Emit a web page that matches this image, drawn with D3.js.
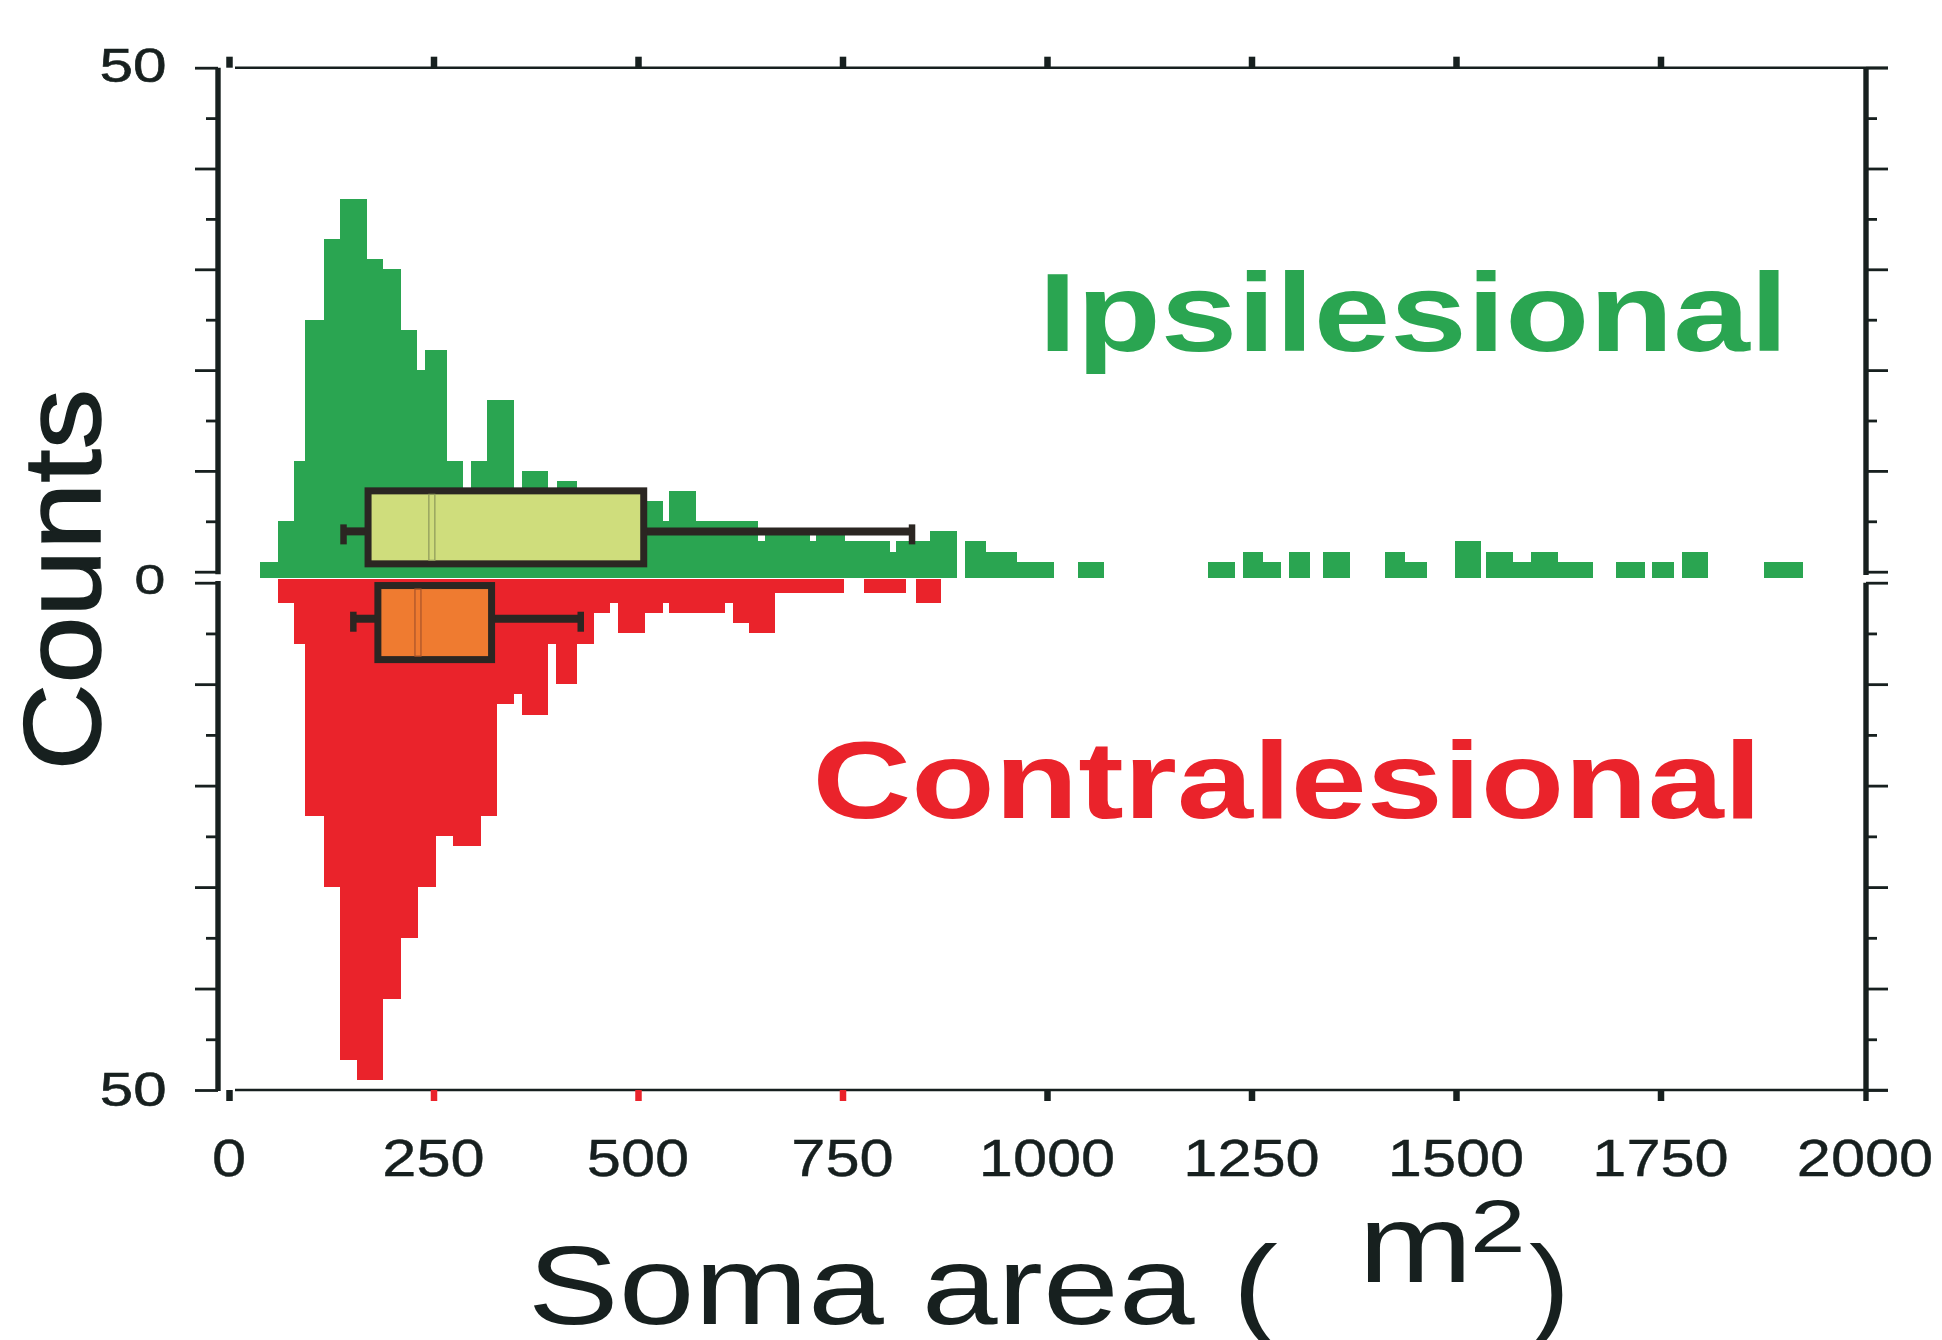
<!DOCTYPE html>
<html><head><meta charset="utf-8">
<script src="https://cdn.jsdelivr.net/npm/d3@7"></script>
<style>html,body{margin:0;padding:0;background:#fff;} svg{display:block}</style>
</head><body>
<svg id="chart" width="1942" height="1340"></svg>
<script>
// ---------------- DATA ----------------
// Ipsilesional histogram (soma area bins, µm²) and counts
const ipsiBinStart = [38,60,80,93.5,116,136,168.5,188,210,230,240,266,286,296,316,348,358,390,401,426,447,468,490,510.6,530,538,570.5,647,655,710,717.6,753,808,816,857,900,926,963,1038,1197,1240,1264,1296,1338,1413,1438,1499,1537,1570,1592,1625,1696,1739,1776,1877];
const ipsiBinEnd   = [60,80,93.5,116,136,168.5,188,210,230,240,266,286,296,316,348,358,390,401,426,447,468,490,510.6,530,538,570.5,647,655,710,717.6,753,808,816,857,889.6,926,963,1008,1070,1230,1264,1286,1321,1370,1438,1465,1530,1570,1592,1625,1668,1731,1766,1808,1924];
const ipsiCounts   = [1,5,11,25,33,37,31,30,24,20,22,11,6,11,17,6,10,7,9,7,6,7,6,7,5,8,5,3,4,3,4,3,2,3,4,3,2,1,1,1,2,1,2,2,2,1,3,2,1,2,1,1,1,2,1];

// Contralesional histogram
const contraBinStart = [60.5,80,93.5,116,136,156,188,210,231,252.6,274,308,328,348.7,358,390,400,425,446,466,475,508,531,538,606,616,636,667,776,840];
const contraBinEnd   = [80,93.5,116,136,156,188,210,231,252.6,274,308,328,348.7,358,390,400,425,446,466,475,508,531,538,606,616,636,667,752,828,870];
const contraCounts   = [2,6,23,30,47,49,41,35,30,25,26,23,12,11,13,6,10,6,3,2,5,3,2,3,2,4,5,1,1,2];

// Box plot statistics: [lower whisker, Q1, median, Q3, upper whisker]
const ipsiBox   = [140,170,248,507,835];
const contraBox = [152,182,231,321,430];

// Axis ticks
const xTickValues = [0,250,500,750,1000,1250,1500,1750,2000];
const xTickLabels = ["0","250","500","750","1000","1250","1500","1750","2000"];
const redXTicks   = [250,500,750];
const countMajorTicks = [0,10,20,30,40,50];
const countMinorTicks = [5,15,25,35,45];

// ---------------- STYLE / LAYOUT ----------------
const FONT = "'Liberation Sans', Arial, Helvetica, sans-serif";
const INK = "#17201f";
const GREEN = "#2aa551", RED = "#ea232b";
const GREEN_BOX = "#cfdd7c", ORANGE_BOX = "#ef7b30", BOX_STROKE = "#2b2622";

const svg = d3.select('#chart');
const x = d3.scaleLinear().domain([0,2000]).range([229,1865]);
const yTop = d3.scaleLinear().domain([0,50]).range([571.7,67.7]);
const yBot = d3.scaleLinear().domain([0,50]).range([582.7,1090]);
const greenBase = yTop(0) + 6;   // bars overhang slightly below zero
const redBase = yBot(0) - 4;

const ctx = document.createElement('canvas').getContext('2d');
function ink(str, size, weight){
  ctx.font = `${weight} ${size}px "Liberation Sans", Arial, sans-serif`;
  const m = ctx.measureText(str);
  return {l: -m.actualBoundingBoxLeft, r: m.actualBoundingBoxRight};
}
function fitText(parent, str, left, right, baseline, size, weight, fill, strokeW){
  const e = ink(str, size, weight);
  const sx = (right-left)/(e.r-e.l);
  const t = parent.append('text')
    .attr('transform', `translate(${left - e.l*sx},${baseline}) scale(${sx},1)`)
    .attr('font-family', FONT).attr('font-size', size).attr('font-weight', weight)
    .attr('fill', fill).text(str);
  if (strokeW) t.attr('stroke', fill).attr('stroke-width', strokeW);
  return t;
}

// ---------------- HISTOGRAMS ----------------
const ipsi = ipsiCounts.map((c,i)=>({x0:ipsiBinStart[i], x1:ipsiBinEnd[i], c}));
const contra = contraCounts.map((c,i)=>({x0:contraBinStart[i], x1:contraBinEnd[i], c}));

svg.append('g').selectAll('rect').data(ipsi).join('rect')
  .attr('x', d=>x(d.x0)).attr('width', d=>x(d.x1)-x(d.x0))
  .attr('y', d=>yTop(d.c)).attr('height', d=>greenBase - yTop(d.c))
  .attr('fill', GREEN).attr('shape-rendering','crispEdges');

svg.append('g').selectAll('rect').data(contra).join('rect')
  .attr('x', d=>x(d.x0)).attr('width', d=>x(d.x1)-x(d.x0))
  .attr('y', redBase).attr('height', d=>yBot(d.c) - redBase)
  .attr('fill', RED).attr('shape-rendering','crispEdges');

// ---------------- BOX PLOTS ----------------
function boxPlot(stats, yTopPx, yBotPx, yWhisk, fill, medStroke){
  const g = svg.append('g');
  const [lo,q1,med,q3,hi] = stats;
  g.append('line').attr('x1',x(lo)).attr('x2',x(q1)).attr('y1',yWhisk).attr('y2',yWhisk)
    .attr('stroke',BOX_STROKE).attr('stroke-width',8);
  g.append('line').attr('x1',x(q3)).attr('x2',x(hi)).attr('y1',yWhisk).attr('y2',yWhisk)
    .attr('stroke',BOX_STROKE).attr('stroke-width',8);
  [lo,hi].forEach(v=>{
    g.append('line').attr('x1',x(v)).attr('x2',x(v)).attr('y1',yWhisk-7).attr('y2',yWhisk+13)
      .attr('stroke',BOX_STROKE).attr('stroke-width',6.5);
  });
  g.append('rect').attr('x',x(q1)).attr('y',yTopPx).attr('width',x(q3)-x(q1)).attr('height',yBotPx-yTopPx)
    .attr('fill',fill).attr('stroke',BOX_STROKE).attr('stroke-width',7);
  g.append('rect').attr('x',x(med)-3).attr('y',yTopPx+3.5).attr('width',6).attr('height',yBotPx-yTopPx-7)
    .attr('fill','none').attr('stroke',medStroke).attr('stroke-width',1.2);
}
boxPlot(ipsiBox, yTop(8.02), yTop(0.78), yTop(4.0), GREEN_BOX, '#8c975a');
boxPlot(contraBox, yBot(0.28), yBot(7.58), yBot(3.55), ORANGE_BOX, '#a8532a');

// ---------------- AXES ----------------
const axG = svg.append('g');
// frame lines
axG.append('line').attr('x1',235).attr('x2',1888).attr('y1',yTop(50)).attr('y2',yTop(50)).attr('stroke',INK).attr('stroke-width',2.6);
axG.append('line').attr('x1',235).attr('x2',1888).attr('y1',yBot(50)).attr('y2',yBot(50)).attr('stroke',INK).attr('stroke-width',2.6);
// left vertical (broken)
axG.append('line').attr('x1',218).attr('x2',218).attr('y1',yTop(50)).attr('y2',574.3).attr('stroke',INK).attr('stroke-width',5.4);
axG.append('line').attr('x1',218).attr('x2',218).attr('y1',581).attr('y2',yBot(50)+1).attr('stroke',INK).attr('stroke-width',5.4);
// right vertical (broken)
axG.append('line').attr('x1',1866).attr('x2',1866).attr('y1',yTop(50)).attr('y2',575).attr('stroke',INK).attr('stroke-width',5.4);
axG.append('line').attr('x1',1866).attr('x2',1866).attr('y1',582.7).attr('y2',1101).attr('stroke',INK).attr('stroke-width',5.4);

function styleAxis(sel, width, colorFn){
  sel.select('.domain').remove();
  sel.selectAll('.tick line').attr('stroke', d=>colorFn ? colorFn(d) : INK).attr('stroke-width', width);
  sel.selectAll('.tick text').remove();
}
// left / right axes (upper & lower halves, major & minor ticks)
[[yTop,countMajorTicks,23],[yTop,countMinorTicks,12],[yBot,countMajorTicks,23],[yBot,countMinorTicks,12]].forEach(([sc,tv,len])=>{
  axG.append('g').attr('transform','translate(218,0)')
    .call(d3.axisLeft(sc).tickValues(tv).tickSize(len).tickFormat(''))
    .call(s=>styleAxis(s,2.8));
  axG.append('g').attr('transform','translate(1866,0)')
    .call(d3.axisRight(sc).tickValues(tv).tickSize(len-1).tickFormat(''))
    .call(s=>styleAxis(s,2.8));
});
// top ticks
axG.append('g').attr('transform',`translate(0,${yTop(50)})`)
  .call(d3.axisTop(x).tickValues(xTickValues.slice(0,-1)).tickSize(11).tickFormat(''))
  .call(s=>styleAxis(s,6.5));
// bottom ticks
axG.append('g').attr('transform',`translate(0,${yBot(50)})`)
  .call(d3.axisBottom(x).tickValues(xTickValues.slice(0,-1)).tickSize(11).tickFormat(''))
  .call(s=>styleAxis(s,6.5, d=>redXTicks.includes(d) ? RED : INK));

const xLab = svg.append('g');
xTickValues.forEach((v,i)=>{
  xLab.append('text').attr('transform',`translate(${x(v)},1176) scale(1.18,1)`)
    .attr('text-anchor','middle').attr('font-family',FONT).attr('font-size',52)
    .attr('fill',INK).attr('stroke',INK).attr('stroke-width',0.4).text(xTickLabels[i]);
});

// y tick labels
fitText(svg, String(countMajorTicks[5]), 100.7, 165, 81.5, 49, 400, INK, 0.6);
fitText(svg, String(countMajorTicks[0]), 135.7, 164, 593.5, 43, 400, INK, 0.6);
fitText(svg, String(countMajorTicks[5]), 101, 165, 1105.5, 49, 400, INK, 0.6);

// ---------------- TITLES ----------------
fitText(svg, 'Ipsilesional', 1047, 1779.5, 350.5, 112, 700, GREEN);
fitText(svg, 'Contralesional', 817.5, 1752.5, 817.5, 110, 700, RED);

const yl = svg.append('g').attr('transform','translate(99.5,765) rotate(-90)');
fitText(yl, 'Counts', 0, 372, 0, 109, 400, INK, 1.5);

fitText(svg, 'Soma area (', 533.8, 1277.6, 1324, 112, 400, INK);
fitText(svg, 'm', 1367, 1463.5, 1281.7, 112, 400, INK);
fitText(svg, '2', 1474, 1520.7, 1251.7, 75, 400, INK);
fitText(svg, ')', 1529, 1563, 1324, 112, 400, INK);
</script>
</body></html>
